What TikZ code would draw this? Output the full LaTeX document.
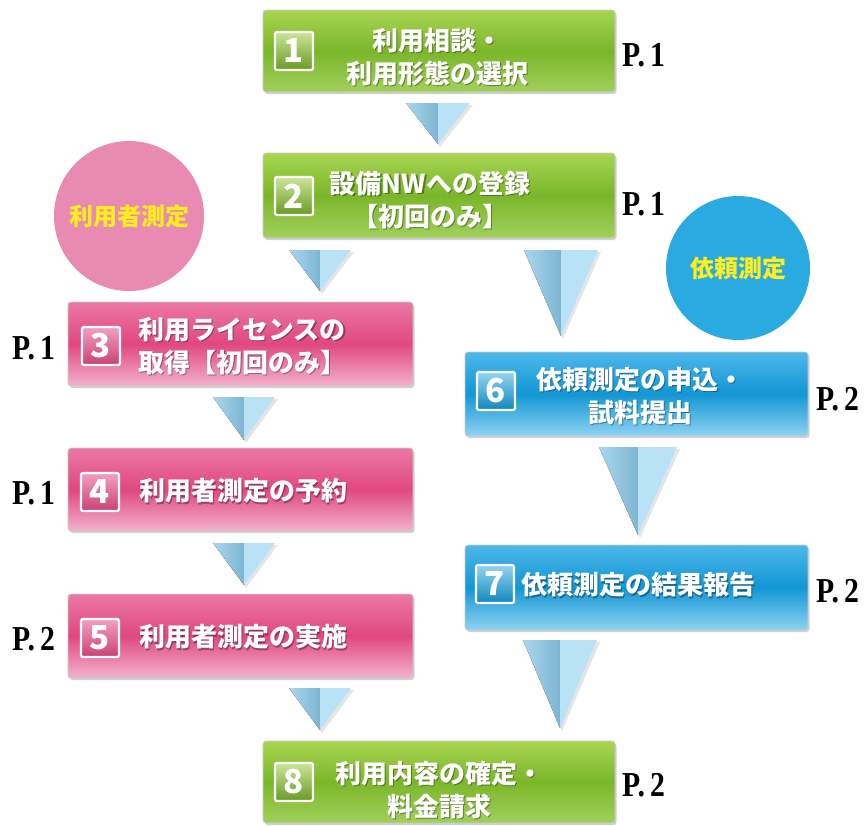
\documentclass[tikz,border=0pt]{standalone}
\usepackage{fontspec}
\setmainfont{Liberation Serif}
\newfontfamily\cjk{Noto Sans CJK JP}
\usetikzlibrary{shadows}
\definecolor{gTop}{HTML}{A9D552}
\definecolor{gMid}{HTML}{7AB62A}
\definecolor{gBot}{HTML}{A2D05C}
\definecolor{pTop}{HTML}{EB78A6}
\definecolor{pMid}{HTML}{E0487F}
\definecolor{pBot}{HTML}{F3B2CE}
\definecolor{bTop}{HTML}{4DB8EA}
\definecolor{bMid}{HTML}{1296D4}
\definecolor{bBot}{HTML}{8FD3F2}
\definecolor{triA}{HTML}{A9D7EE}
\definecolor{triD}{HTML}{7DB5D1}
\definecolor{triR}{HTML}{B9E2F6}
\definecolor{circP}{HTML}{E98AB3}
\definecolor{circB}{HTML}{29ABE2}
\definecolor{circT}{HTML}{FFEE1E}
\tikzset{
  box/.style={rectangle, rounded corners=3pt, draw=white!80!black, line width=0.8pt,
    inner sep=0pt,
    drop shadow={shadow xshift=1.5pt, shadow yshift=-2pt, opacity=0.3, fill=black!60}},
  gbox/.style={box, top color=gTop, bottom color=gBot, middle color=gMid},
  pbox/.style={box, top color=pTop, bottom color=pBot, middle color=pMid},
  bbox/.style={box, top color=bTop, bottom color=bBot, middle color=bMid},
  wide/.style={minimum width=352pt},
  narrow/.style={minimum width=345pt},
  btext/.style={text=white, align=center, inner sep=0pt,
    font=\cjk\bfseries\fontsize{26}{33}\selectfont},
  numsq/.style={rectangle, minimum size=38pt, inner sep=0pt, rounded corners=2pt,
    draw=white, line width=2.2pt, text=white,
    font=\cjk\bfseries\fontsize{33}{33}\selectfont},
  gsq/.style={numsq, top color=gTop!60!white, bottom color=gMid!85!black},
  psq/.style={numsq, top color=pTop!70!white, bottom color=pMid!90!black},
  bsq/.style={numsq, top color=bTop!60!white, bottom color=bMid!90!black},
  plabel/.style={inner sep=0pt, font=\fontsize{35}{35}\selectfont\bfseries},
  circ/.style={circle, inner sep=0pt, text=circT, font=\cjk\bfseries\fontsize{24}{24}\selectfont}
}
\newcommand\blabel[4]{%
  \node[btext, text=black, opacity=0.35] (#1s) at (#2+1.3,#3+1.3) {#4};
  \node[btext] (#1) at (#2,#3) {#4};}
\newcommand\tri[4]{%
  \fill[black, opacity=0.10] (#1-#3+3,#2+2) -- (#1+#3+3,#2+2) -- (#1+2,#4+3) -- cycle;
  \fill[left color=triA, right color=triD] (#1-#3,#2) -- (#1,#2) -- (#1,#4) -- cycle;
  \fill[triR] (#1,#2) -- (#1+#3,#2) -- (#1,#4) -- cycle;}
\newcommand\pg[1]{\scalebox{0.85}[1]{\spaceskip=6pt P. #1}}
\begin{document}
\begin{tikzpicture}[x=1pt,y=-1pt]
\useasboundingbox (0,0) rectangle (866,825);
\fill[white] (0,0) rectangle (866,825);

% circles
\node[circ, fill=circP, minimum size=150pt] (cp) at (129,216) {利用者測定};
\node[circ, fill=circB, minimum size=144pt] (cb) at (738,268) {依頼測定};

% triangles
\tri{438}{103}{32}{144}
\tri{320}{250}{31}{291}
\tri{561}{250}{37}{336}
\tri{244}{397}{31}{440}
\tri{244}{543}{31}{585}
\tri{638}{447}{39}{535}
\tri{320}{688}{31}{730}
\tri{560}{640}{37}{728}

% boxes
\node[gbox, wide, minimum height=82pt] (b1) at (439,51) {};
\node[gbox, wide, minimum height=85pt] (b2) at (439,195.5) {};
\node[pbox, narrow, minimum height=84pt] (b3) at (240.5,344) {};
\node[pbox, narrow, minimum height=83pt] (b4) at (240.5,489.5) {};
\node[pbox, narrow, minimum height=84pt] (b5) at (240.5,636) {};
\node[bbox, minimum width=343pt, minimum height=84pt] (b6) at (636.5,394) {};
\node[bbox, minimum width=343pt, minimum height=85pt] (b7) at (636.5,587.5) {};
\node[gbox, wide, minimum height=82pt] (b8) at (439,782) {};

% number squares
\node[gsq] (n1) at (294,51) {1};
\node[gsq] (n2) at (294,196) {2};
\node[psq] (n3) at (101,346) {3};
\node[psq] (n4) at (100,492) {4};
\node[psq] (n5) at (100,638) {5};
\node[bsq] (n6) at (496,391) {6};
\node[bsq] (n7) at (495,584) {7};
\node[gsq] (n8) at (294,782) {8};

% box texts
\blabel{t1}{437}{57}{利用相談・\\利用形態の選択}
\blabel{t2}{430}{200}{設備NWへの登録\\【初回のみ】}
\blabel{t3}{242}{346}{利用ライセンスの\\取得【初回のみ】}
\blabel{t4}{243}{491}{利用者測定の予約}
\blabel{t5}{243}{637}{利用者測定の実施}
\blabel{t6}{640}{396}{依頼測定の申込・\\試料提出}
\blabel{t7}{638}{585}{依頼測定の結果報告}
\blabel{t8}{439}{790}{利用内容の確定・\\料金請求}

% page labels
\node[plabel, anchor=west] (p1) at (622,55) {\pg{1}};
\node[plabel, anchor=west] (p2) at (622,204) {\pg{1}};
\node[plabel, anchor=west] (p3) at (12,348) {\pg{1}};
\node[plabel, anchor=west] (p4) at (12,493) {\pg{1}};
\node[plabel, anchor=west] (p5) at (12,639) {\pg{2}};
\node[plabel, anchor=west] (p6) at (816,399) {\pg{2}};
\node[plabel, anchor=west] (p7) at (816,591) {\pg{2}};
\node[plabel, anchor=west] (p8) at (622,785) {\pg{2}};
\end{tikzpicture}
\end{document}
